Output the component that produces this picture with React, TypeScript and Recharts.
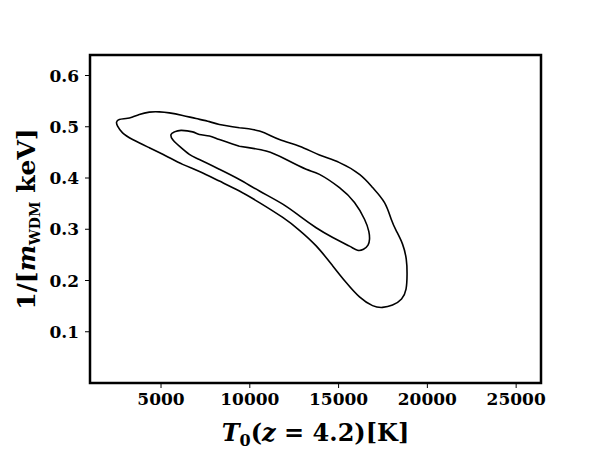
import React from "react";
import { ScatterChart, Scatter, XAxis, YAxis, ReferenceArea } from "recharts";

// Tick labels
const X_TICKS = [5000, 10000, 15000, 20000, 25000];
const Y_TICKS = [0.1, 0.2, 0.3, 0.4, 0.5, 0.6];

// Outer contour, starting mid-way along the top edge
const OUTER_T0 = [
  9414, 10541, 11669, 12796, 13923, 15051, 16178, 16928, 17587, 17965, 18264,
  18602, 18811, 18856, 18799, 18546, 18039, 17475, 16911, 16178, 15428, 14673,
  13737, 12796, 11855, 10541, 9414, 8286, 7166, 6218, 5282, 4340, 3399, 2835,
  2554, 2497, 2649, 3027, 3399, 3777, 4340, 4904, 5468, 6218, 6973, 7723, 8286,
  9414,
];
const OUTER_INV_M = [
  0.498, 0.4915, 0.475, 0.462, 0.445, 0.43, 0.407, 0.381, 0.352, 0.3195, 0.296,
  0.271, 0.2416, 0.212, 0.183, 0.164, 0.152, 0.1475, 0.151, 0.168, 0.196,
  0.2285, 0.2675, 0.298, 0.323, 0.352, 0.3746, 0.394, 0.4126, 0.4266, 0.443,
  0.459, 0.475, 0.488, 0.501, 0.509, 0.514, 0.516, 0.519, 0.524, 0.5285, 0.529,
  0.527, 0.522, 0.516, 0.51, 0.5045, 0.498,
];

// Inner contour
const INNER_T0 = [
  9414, 10919, 12046, 13174, 13923, 15051, 15896, 16460, 16702, 16742, 16657,
  16404, 16065, 15615, 14673, 13737, 12796, 11855, 10541, 9414, 8286, 7159,
  6595, 6032, 5654, 5564, 5750, 6127, 6781, 7159, 7723, 8286, 9414,
];
const INNER_INV_M = [
  0.462, 0.4525, 0.436, 0.417, 0.407, 0.381, 0.352, 0.3195, 0.296, 0.2805,
  0.269, 0.261, 0.259, 0.267, 0.284, 0.303, 0.326, 0.349, 0.3746, 0.397,
  0.417, 0.436, 0.446, 0.462, 0.475, 0.485, 0.49, 0.493, 0.49, 0.485, 0.482,
  0.475, 0.462,
];

const zip = (xs: number[], ys: number[]) =>
  xs.map((x, i) => ({ t0: x, invM: ys[i] }));

const outer = zip(OUTER_T0, OUTER_INV_M);
const inner = zip(INNER_T0, INNER_INV_M);

const FONT = "'DejaVu Serif', 'Liberation Serif', serif";
const X_DOMAIN: [number, number] = [1000, 26400];
const Y_DOMAIN: [number, number] = [0, 0.64];

function XLabel(props: any) {
  const { viewBox } = props;
  const cx = viewBox.x + viewBox.width / 2;
  return (
    <text
      x={cx}
      y={441}
      textAnchor="middle"
      fontFamily={FONT}
      fontWeight="bold"
      fontSize={24}
      fill="#000"
    >
      <tspan fontStyle="italic">T</tspan>
      <tspan fontSize={16} dy={5}>0</tspan>
      <tspan dy={-5}>(</tspan>
      <tspan fontStyle="italic">z</tspan>
      <tspan> = 4.2)[K]</tspan>
    </text>
  );
}

function YLabel(props: any) {
  const { viewBox } = props;
  const cy = viewBox.y + viewBox.height / 2;
  const x = 35;
  return (
    <text
      x={x}
      y={cy}
      transform={`rotate(-90, ${x}, ${cy})`}
      textAnchor="middle"
      fontFamily={FONT}
      fontWeight="bold"
      fontSize={25}
      fill="#000"
    >
      <tspan>1/[</tspan>
      <tspan fontStyle="italic">m</tspan>
      <tspan fontSize={14} dy={5}>WDM</tspan>
      <tspan dy={-5}> keV]</tspan>
    </text>
  );
}

const tickStyle = {
  fontSize: 17,
  fontFamily: FONT,
  fontWeight: "bold" as const,
  fill: "#000",
};

export default function App() {
  return (
    <div style={{ position: "absolute", left: 0, top: 0, background: "#fff" }}>
      <ScatterChart
        width={600}
        height={450}
        margin={{ top: 55, right: 59, bottom: 0, left: 0 }}
      >
        <XAxis
          type="number"
          dataKey="t0"
          domain={X_DOMAIN}
          ticks={X_TICKS}
          allowDataOverflow
          height={67}
          tick={tickStyle}
          tickSize={5}
          tickMargin={5}
          tickLine={{ stroke: "#000" }}
          axisLine={false}
          label={<XLabel />}
        />
        <YAxis
          type="number"
          dataKey="invM"
          domain={Y_DOMAIN}
          ticks={Y_TICKS}
          allowDataOverflow
          width={90}
          tick={tickStyle}
          tickSize={5}
          tickMargin={6}
          tickLine={{ stroke: "#000" }}
          axisLine={false}
          label={<YLabel />}
        />
        <Scatter
          data={outer}
          line={{ stroke: "#000", strokeWidth: 1.6 }}
          lineJointType="natural"
          shape={() => <g />}
          isAnimationActive={false}
        />
        <Scatter
          data={inner}
          line={{ stroke: "#000", strokeWidth: 1.6 }}
          lineJointType="natural"
          shape={() => <g />}
          isAnimationActive={false}
        />
        <ReferenceArea
          x1={X_DOMAIN[0]}
          x2={X_DOMAIN[1]}
          y1={Y_DOMAIN[0]}
          y2={Y_DOMAIN[1]}
          fill="none"
          fillOpacity={0}
          stroke="#000"
          strokeWidth={2.5}
          ifOverflow="visible"
        />
      </ScatterChart>
    </div>
  );
}
